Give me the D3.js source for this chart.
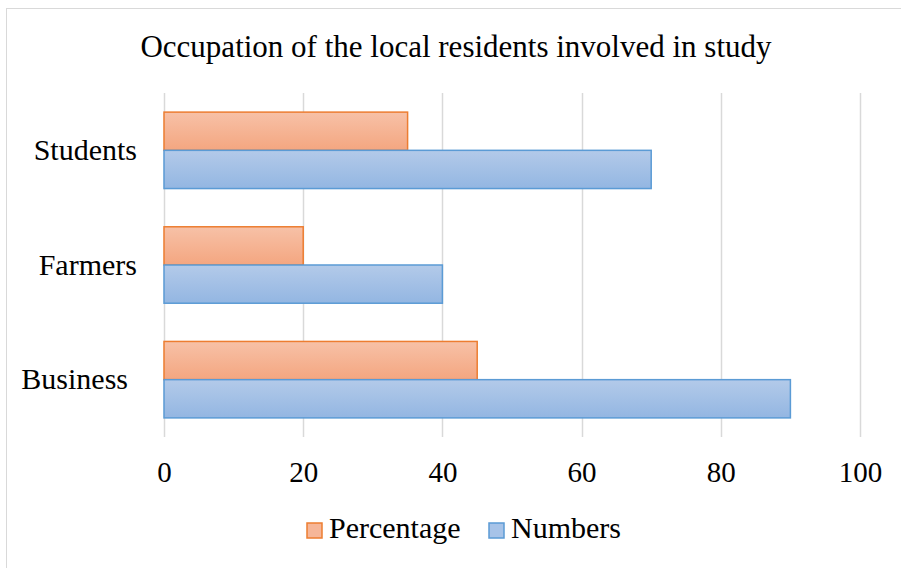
<!DOCTYPE html>
<html>
<head>
<meta charset="utf-8">
<script src="https://cdn.jsdelivr.net/npm/d3@7"></script>
<style>
  body { margin: 0; background: #fff; }
</style>
</head>
<body>
<div id="chart"></div>
<script>
// Chart data
const categories = ["Students", "Farmers", "Business"];
const seriesNames = ["Percentage", "Numbers"];
const percentage = [35, 20, 45];
const numbers = [70, 40, 90];
const xTicks = [0, 20, 40, 60, 80, 100];

const W = 901, H = 568;
const FONT = "Liberation Serif";
const margin = {top: 93, right: 41, bottom: 131, left: 164};
const width = W - margin.left - margin.right,
      height = H - margin.top - margin.bottom;

const svg = d3.select("#chart").append("svg")
    .attr("width", W)
    .attr("height", H)
    .attr("font-family", FONT);

// gradients for bar fills
const defs = svg.append("defs");
const grads = [
  {id: "gOrange", top: "#f7c1a7", bottom: "#f4a680"},
  {id: "gBlue", top: "#b3cae9", bottom: "#93b6e2"}
];
grads.forEach(g => {
  const lg = defs.append("linearGradient").attr("id", g.id)
      .attr("x1", 0).attr("y1", 0).attr("x2", 0).attr("y2", 1);
  lg.append("stop").attr("offset", "0%").attr("stop-color", g.top);
  lg.append("stop").attr("offset", "100%").attr("stop-color", g.bottom);
});
const fills = ["url(#gOrange)", "url(#gBlue)"];
const strokes = ["#ed7d31", "#5b9bd5"];
const legendFills = ["#f6b698", "#a7c3e8"];

// outer frame
svg.append("rect")
    .attr("x", 6.5).attr("y", 8.5)
    .attr("width", W).attr("height", H)
    .attr("fill", "none").attr("stroke", "#d9d9d9");

svg.append("text")
    .attr("x", 456).attr("y", 57)
    .attr("text-anchor", "middle")
    .attr("font-size", 31)
    .text("Occupation of the local residents involved in study");

const g = svg.append("g")
    .attr("transform", `translate(${margin.left},${margin.top})`);

const x = d3.scaleLinear().domain([0, 100]).range([0, width]);
const y = d3.scaleBand().domain(categories).range([0, height])
    .paddingInner(1 / 3).paddingOuter(1 / 6);
const ySub = d3.scaleBand().domain(seriesNames).range([0, y.bandwidth()]);

// vertical gridlines
g.selectAll(".grid")
    .data(xTicks)
  .enter().append("line")
    .attr("x1", d => Math.round(x(d)) + 0.5)
    .attr("x2", d => Math.round(x(d)) + 0.5)
    .attr("y1", 0).attr("y2", height)
    .attr("stroke", "#d9d9d9").attr("stroke-width", 1.5);

// x axis labels
const xAxis = g.append("g")
    .attr("transform", `translate(0,${height})`)
    .call(d3.axisBottom(x).tickValues(xTicks).tickSize(0).tickPadding(24))
    .attr("font-family", FONT)
    .attr("font-size", 29);
xAxis.select(".domain").remove();
xAxis.selectAll("text").attr("fill", "#000");

// y category labels
const yAxis = g.append("g")
    .call(d3.axisLeft(y).tickSize(0).tickPadding(27))
    .attr("font-family", FONT)
    .attr("font-size", 30);
yAxis.select(".domain").remove();
yAxis.selectAll("text")
    .attr("fill", "#000")
    .attr("dx", d => d === "Business" ? -9 : 0);

// bars
const rows = categories.map((c, i) => ({cat: c, values: [percentage[i], numbers[i]]}));
const grp = g.selectAll(".cat")
    .data(rows)
  .enter().append("g")
    .attr("transform", d => `translate(0,${y(d.cat)})`);

grp.selectAll("rect")
    .data(d => d.values.map((v, j) => ({v, j})))
  .enter().append("rect")
    .attr("x", x(0))
    .attr("y", d => ySub(seriesNames[d.j]))
    .attr("width", d => x(d.v) - x(0))
    .attr("height", ySub.bandwidth())
    .attr("fill", d => fills[d.j])
    .attr("stroke", d => strokes[d.j])
    .attr("stroke-width", 1.5);

// legend
const legendX = [307, 489];
const lg = svg.append("g");
seriesNames.forEach((s, i) => {
  lg.append("rect")
      .attr("x", legendX[i]).attr("y", 523)
      .attr("width", 15).attr("height", 15)
      .attr("fill", legendFills[i])
      .attr("stroke", strokes[i]).attr("stroke-width", 1.5);
  lg.append("text")
      .attr("x", legendX[i] + 22).attr("y", 538)
      .attr("font-size", 30)
      .text(s);
});
</script>
</body>
</html>
